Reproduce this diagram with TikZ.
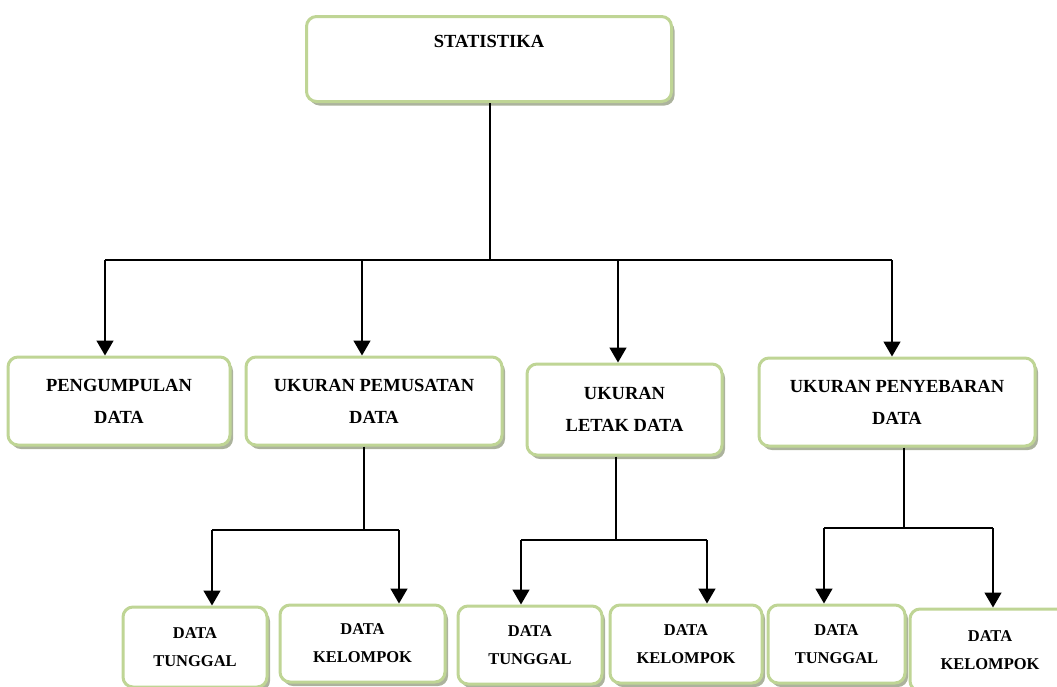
\documentclass[tikz,border=0pt]{standalone}
\usepackage{fontspec}
\setmainfont{Liberation Serif}
\usepackage{tikz}
\usetikzlibrary{positioning, arrows.meta, shadows}
\definecolor{hijau}{HTML}{BFD595}
\definecolor{bayang}{HTML}{9EA68C}
\tikzset{kotak/.style = {draw=hijau, line width=3pt, rounded corners=10pt, fill=white, align=center, inner sep=0pt,
    font=\bfseries\fontsize{18.5}{32}\selectfont,
    drop shadow={shadow xshift=3pt, shadow yshift=-4pt, fill=bayang, opacity=0.85}}}
\tikzset{kecil/.style = {kotak, font=\bfseries\fontsize{16.5}{28}\selectfont}}
\tikzset{garis/.style = {line width=1.5pt}}
\tikzset{panah/.style = {garis, -{Triangle[width=17pt,length=15pt]}}}

\begin{document}
\begin{tikzpicture}[x=1pt,y=-1pt]
            \useasboundingbox (0,0) rectangle (1057,686);
            \clip (0,0) rectangle (1057,686);
            \node[kotak, minimum width=365pt, minimum height=85pt, text height=31pt, text depth=54pt, anchor=north] (stat) at (489,15) {STATISTIKA};
            \node[kotak, minimum width=222pt, minimum height=88pt] (peng) at (119,401) {PENGUMPULAN\\DATA};
            \node[kotak, minimum width=256pt, minimum height=88pt] (pemu) at (374,401) {UKURAN PEMUSATAN\\DATA};
            \node[kotak, minimum width=195pt, minimum height=91pt] (letak) at (624.5,409.5) {UKURAN\\LETAK DATA};
            \node[kotak, minimum width=276pt, minimum height=88pt] (sebar) at (897,402) {UKURAN PENYEBARAN\\DATA};
            \node[kecil, minimum width=144pt, minimum height=80pt] (t1) at (195,647) {DATA\\TUNGGAL};
            \node[kecil, minimum width=165pt, minimum height=77pt] (k1) at (362.5,643.5) {DATA\\KELOMPOK};
            \node[kecil, minimum width=144pt, minimum height=78pt] (t2) at (530,645) {DATA\\TUNGGAL};
            \node[kecil, minimum width=152pt, minimum height=78pt] (k2) at (686,644) {DATA\\KELOMPOK};
            \node[kecil, minimum width=137pt, minimum height=78pt] (t3) at (836.5,644) {DATA\\TUNGGAL};
            \node[kecil, minimum width=160pt, minimum height=82pt] (k3) at (990,650) {DATA\\KELOMPOK};
            \coordinate (cabang) at (490,260);
            \coordinate (ujungkiri) at (105,260);
            \coordinate (ujungkanan) at (892,260);
            \draw[garis] (stat.south -| cabang) -- (cabang);
            \draw[garis] (ujungkiri) -- (ujungkanan);
            \foreach \x/\n in {105/peng, 362/pemu, 618/letak, 892/sebar}{
                \coordinate (p\n) at (\x,260);
                \draw[panah] (p\n) -- (p\n |- \n.north);
            }
            \foreach \atas/\sx/\by/\kiri/\kanan/\a/\b in {pemu/364/530/212/399/t1/k1, letak/616/540/521/707/t2/k2, sebar/904/528/824/993/t3/k3}{
                \coordinate (s\atas) at (\sx,\by);
                \coordinate (l\atas) at (\kiri,\by);
                \coordinate (r\atas) at (\kanan,\by);
                \draw[garis] (s\atas |- \atas.south) -- (s\atas);
                \draw[garis] (l\atas) -- (r\atas);
                \draw[panah] (l\atas) -- (l\atas |- \a.north);
                \draw[panah] (r\atas) -- (r\atas |- \b.north);
            }
        \end{tikzpicture}
\end{document}
